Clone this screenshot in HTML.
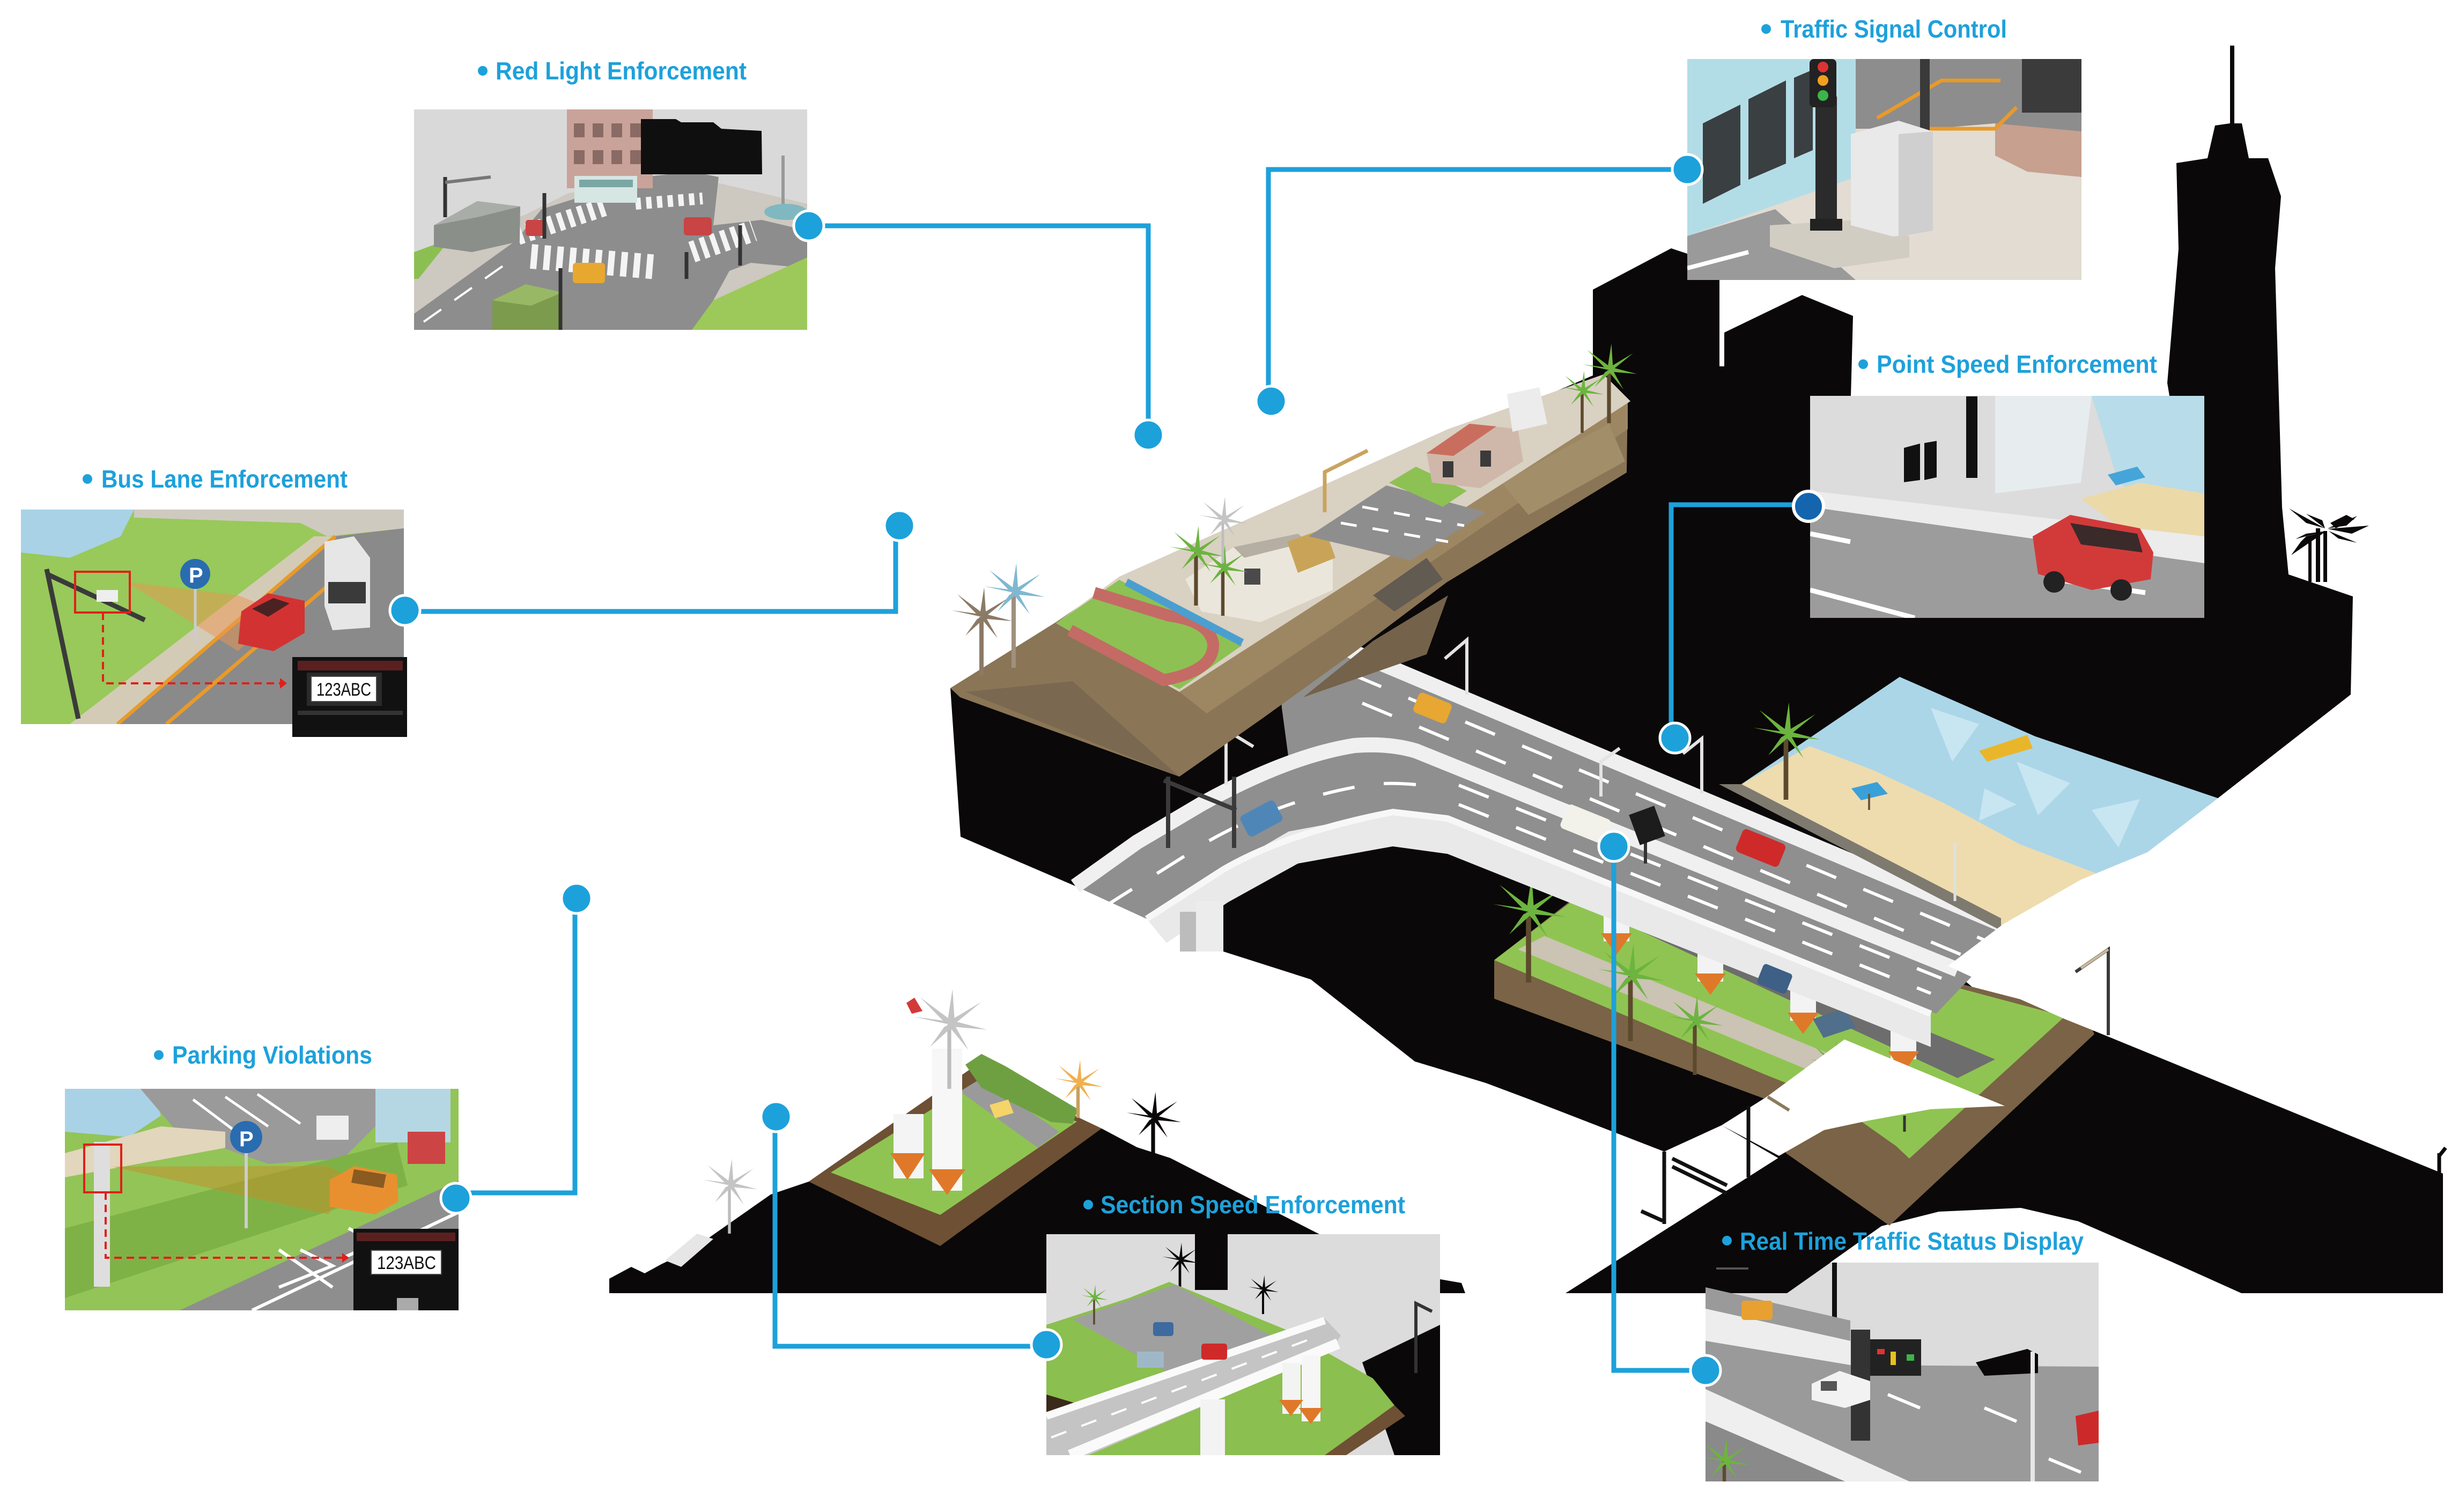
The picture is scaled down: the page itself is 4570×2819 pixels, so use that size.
<!DOCTYPE html>
<html><head><meta charset="utf-8"><title>ITS Solutions</title>
<style>
html,body{margin:0;padding:0;background:#fff;width:4570px;height:2819px;overflow:hidden}
svg{display:block}
.lb{font-family:"Liberation Sans",Arial,sans-serif;font-weight:bold;font-size:46px;fill:#1da1db}
.pl{font-family:"Liberation Sans",Arial,sans-serif;font-size:34px;fill:#111}
</style></head><body>
<svg width="4570" height="2819" viewBox="0 0 4570 2819" xmlns="http://www.w3.org/2000/svg">
<defs>
 <clipPath id="c1"><rect x="772" y="204" width="733" height="411"/></clipPath>
 <clipPath id="c2"><rect x="39" y="950" width="714" height="400"/></clipPath>
 <clipPath id="c3"><rect x="3146" y="110" width="735" height="412"/></clipPath>
 <clipPath id="c4"><rect x="3375" y="738" width="735" height="414"/></clipPath>
 <clipPath id="c5"><rect x="121" y="2030" width="734" height="413"/></clipPath>
 <clipPath id="c6"><rect x="1951" y="2301" width="734" height="412"/></clipPath>
 <clipPath id="c7"><rect x="3180" y="2354" width="733" height="408"/></clipPath>
 <g id="palmG"><rect x="-4" y="0" width="8" height="110" fill="#5d4a2e"/><path d="M0,0 L-55,-12 L-10,-6 L-45,-42 L-2,-10 L5,-55 L8,-10 L50,-35 L12,-4 L58,8 L10,4 L30,40 L2,6 L-30,35 L-8,4 Z" fill="#6cb43f"/></g>
 <g id="palmK"><rect x="-4" y="0" width="8" height="90" fill="#0a0808"/><path d="M0,0 L-55,-12 L-10,-6 L-45,-42 L-2,-10 L5,-55 L8,-10 L50,-35 L12,-4 L58,8 L10,4 L30,40 L2,6 L-30,35 L-8,4 Z" fill="#0a0808"/></g>
 <g id="palmY"><rect x="-3" y="0" width="6" height="100" fill="#bdbdbd"/><path d="M0,0 L-55,-12 L-10,-6 L-45,-42 L-2,-10 L5,-55 L8,-10 L50,-35 L12,-4 L58,8 L10,4 L30,40 L2,6 L-30,35 L-8,4 Z" fill="#c4c4c4"/></g>
</defs>

<!-- ===== BLACK MASSES ===== -->
<polygon fill="#0a0808" points="1772,1283 1969,1160 2087,1079 2970,700 2970,540 3116,463 3206,493 3206,683 3215,683 3215,620 3360,550 3455,589 3451,738 4045,738 4041,714 4062,464 4058,304 4116,295 4130,234 4158,230 4158,85 4166,85 4166,230 4180,230 4193,295 4229,295 4253,366 4242,500 4255,946 4267,1071 4387,1112 4383,1295 4128,1494 4004,1589 3880,1640 3735,1723 3632,1801 3700,1860 3891,1900 3900,1925 3523,2280 3317,2160 3210,2098 3103,2147 2850,2049 2770,2019 2638,1979 2444,1826 2281,1774 2281,1700 2138,1713 2005,1652 1791,1560"/>
<polygon fill="#0a0808" points="2919,2411 3317,2158 3523,2280 3900,1920 4555,2188 4555,2411 4179,2411 4050,2353 3875,2277 3768,2252 3615,2259 3508,2286 3332,2411"/>
<polygon fill="#0a0808" points="1136,2411 1136,2384 1177,2362 1202,2374 1233,2357 1290,2330 1437,2227 1508,2203 1814,1990 2054,2104 2120,2139 2182,2159 2460,2301 1951,2301 1951,2411"/>
<polygon fill="#0a0808" points="2685,2385 2725,2392 2732,2411 2685,2411"/>
<!-- palm silhouette near tower -->
<g fill="#0a0808">
 <path d="M4335,985 L4268,948 L4285,962 L4300,975 Z"/>
 <path d="M4335,985 L4300,958 L4330,970 Z"/>
 <path d="M4340,985 L4395,962 L4375,980 Z"/>
 <path d="M4340,986 L4417,980 L4385,995 Z"/>
 <path d="M4338,990 L4272,1035 L4290,1010 L4300,1000 Z"/>
 <path d="M4338,990 L4280,1005 L4300,995 Z"/>
 <path d="M4342,990 L4395,1012 L4360,1004 Z"/>
 <path d="M4345,975 L4375,960 L4390,968 L4355,985 Z"/>
 <rect x="4318" y="985" width="8" height="100"/>
 <rect x="4332" y="990" width="7" height="95"/>
 <rect x="4304" y="1000" width="6" height="85"/>
</g>
<use href="#palmK" transform="translate(2150,2085) scale(0.9)"/>

<!-- ===== BIG ISLAND ===== -->
<polygon fill="#7a6346" points="2786,1790 2786,1862 3294,2050 3330,2150 3523,2285 3905,1928 3891,1895 2960,1655"/>
<polygon fill="#8fc452" points="2786,1790 2960,1658 3850,1895 3560,2160 3470,2075 3290,2003"/>
<polygon fill="#cbc3b3" points="2830,1770 2880,1745 3520,2010 3480,2040"/>
<polygon fill="#6d6d6d" points="2960,1690 3010,1680 3720,1975 3650,2010"/>
<g fill="#f3f3f3">
 <rect x="2990" y="1670" width="48" height="85"/><rect x="3165" y="1745" width="48" height="85"/>
 <rect x="3338" y="1815" width="48" height="88"/><rect x="3525" y="1890" width="48" height="85"/>
</g>
<g fill="#e0782a">
 <polygon points="2985,1740 3043,1740 3014,1780"/><polygon points="3160,1815 3218,1815 3189,1855"/>
 <polygon points="3333,1888 3391,1888 3362,1928"/><polygon points="3520,1960 3578,1960 3549,2000"/>
</g>
<polygon fill="#4f6f8a" points="3380,1900 3440,1880 3460,1915 3400,1935"/>
<use href="#palmG" transform="translate(2850,1700) scale(1.2)"/>
<use href="#palmG" transform="translate(3040,1820) scale(1.1)"/>
<use href="#palmG" transform="translate(3160,1905) scale(0.9)"/>
<use href="#palmG" transform="translate(3420,1985) scale(0.8)"/>
<polygon fill="#8fc452" points="3462,2085 3540,2060 3610,2100 3540,2140"/>
<!-- white tear -->
<polygon fill="#ffffff" points="3210,2098 3294,2045 3439,1938 3738,2062 3600,2068 3485,2089 3401,2107 3317,2155"/>
<!-- lamps in white gap -->
<g stroke="#111" stroke-width="7" fill="none">
 <line x1="3103" y1="2147" x2="3103" y2="2282"/><line x1="3260" y1="2062" x2="3260" y2="2195"/>
 <line x1="3118" y1="2160" x2="3220" y2="2210"/><line x1="3118" y1="2175" x2="3220" y2="2225"/>
 <line x1="3060" y1="2258" x2="3100" y2="2276"/>
</g>
<line x1="3296" y1="2045" x2="3336" y2="2070" stroke="#8a7a5e" stroke-width="6"/>
<line x1="3551" y1="2080" x2="3551" y2="2110" stroke="#333" stroke-width="5"/>

<!-- ===== ROADS ===== -->
<polygon fill="#8f8f8f" points="2380,1150 3760,1733 3610,1890 2700,1525 2403,1417 2390,1320"/>
<polygon fill="#8f8f8f" points="2005,1652 2120,1570 2240,1499 2403,1417 2525,1390 2617,1395 2720,1425 2699,1524 2597,1514 2403,1550 2281,1621 2138,1713"/>
<polygon fill="#e9e9e9" points="2138,1713 2281,1621 2403,1550 2597,1514 2699,1526 3600,1890 3600,1952 2699,1592 2597,1578 2420,1610 2290,1682 2175,1758"/>
<rect x="2230" y="1680" width="51" height="94" fill="#ececec"/>
<rect x="2200" y="1700" width="30" height="74" fill="#bcbcbc"/>
<line x1="2380" y1="1155" x2="3760" y2="1735" stroke="#efefef" stroke-width="28"/>
<path d="M2005,1652 L2120,1570 L2240,1499 Q2400,1410 2525,1390 Q2590,1385 2640,1400 L3650,1808" stroke="#f0f0f0" stroke-width="28" fill="none"/>
<path d="M2138,1713 L2281,1621 Q2400,1552 2597,1514 L2699,1526 L3600,1890" stroke="#f7f7f7" stroke-width="12" fill="none"/>
<g stroke="#ffffff" stroke-width="6" stroke-dasharray="60 55" fill="none">
 <line x1="2520" y1="1257" x2="3720" y2="1761"/>
 <line x1="2540" y1="1311" x2="3700" y2="1798"/>
 <line x1="2720" y1="1464" x2="3620" y2="1824"/>
 <line x1="2720" y1="1500" x2="3600" y2="1852"/>
 <path d="M2060,1690 L2250,1570 Q2400,1485 2560,1462 Q2620,1457 2690,1470"/>
</g>
<g stroke="#3a3a3a" stroke-width="8" fill="none">
 <line x1="2178" y1="1448" x2="2178" y2="1581"/><line x1="2301" y1="1448" x2="2301" y2="1581"/>
 <line x1="2170" y1="1455" x2="2305" y2="1510"/>
</g>
<line x1="3068" y1="1560" x2="3068" y2="1610" stroke="#333" stroke-width="6"/>
<rect x="3046" y="1509" width="50" height="60" fill="#1c1c1c" transform="rotate(-20 3071 1539)"/>
<rect x="2638" y="1300" width="66" height="40" rx="8" fill="#e7a732" transform="rotate(22 2671 1320)"/>
<rect x="2316" y="1504" width="72" height="44" rx="8" fill="#4f86b8" transform="rotate(-28 2352 1526)"/>
<rect x="2913" y="1512" width="87" height="48" rx="8" fill="#f2f2ea" transform="rotate(22 2956 1536)"/>
<rect x="3240" y="1558" width="86" height="46" rx="8" fill="#cf2a2a" transform="rotate(22 3283 1581)"/>
<rect x="3280" y="1805" width="58" height="40" rx="6" fill="#3e5f86" transform="rotate(22 3309 1825)"/>
<g stroke="#e3e3e3" stroke-width="6" fill="none">
 <path d="M2735,1295 L2735,1193 L2694,1228"/>
 <path d="M2286,1463 L2286,1361 L2337,1392"/>
 <path d="M3173,1479 L3173,1377 L3138,1405"/>
 <path d="M3652,1682 L3652,1578 L3620,1605"/>
 <path d="M2985,1485 L2985,1420 L3020,1395"/>
</g>

<!-- ===== BEACH ===== -->
<polygon fill="#abd6e8" points="3542,1262 3795,1373 4138,1489 4012,1605 3872,1677 3731,1726 3247,1462"/>
<g fill="#c8e6f1">
 <polygon points="3600,1320 3690,1350 3640,1420"/><polygon points="3760,1420 3860,1460 3800,1520"/>
 <polygon points="3900,1510 3990,1490 3950,1580"/><polygon points="3700,1470 3760,1500 3690,1530"/>
</g>
<polygon fill="#eedcae" points="3247,1462 3374,1391 3493,1436 3626,1498 3766,1574 3942,1641 3872,1677 3731,1726"/>
<polygon fill="#7e7a70" points="3205,1462 3247,1462 3731,1712 3731,1735"/>
<polygon fill="#e9b62b" points="3690,1400 3780,1370 3790,1395 3705,1420"/>
<polygon fill="#3aa0d8" points="3452,1470 3500,1458 3520,1480 3470,1492"/>
<line x1="3485" y1="1480" x2="3485" y2="1510" stroke="#6a5a40" stroke-width="4"/>
<use href="#palmG" transform="translate(3330,1370) scale(1.1)"/>
<line x1="3645" y1="1570" x2="3645" y2="1680" stroke="#e0e0e0" stroke-width="5"/>
<polygon fill="#ffffff" points="4128,1494 4383,1295 4570,1295 4570,2195 4555,2188 3900,1920 3850,1900 3760,1860 3632,1801 3735,1723 3880,1640 4004,1589"/>
<path d="M3931,1930 L3931,1770 L3870,1812" stroke="#3a3a3a" stroke-width="6" fill="none"/>
<path d="M3931,1770 L3880,1805" stroke="#c9b89a" stroke-width="5"/>
<path d="M4548,2150 L4548,2250 M4548,2155 L4560,2140" stroke="#0a0808" stroke-width="7" fill="none"/>

<!-- ===== CLIFF ===== -->
<polygon fill="#8a7556" points="1772,1283 1969,1160 2087,1079 2990,700 3035,748 3033,881 2697,1086 2525,1216 2353,1340 2199,1448 1790,1300"/>
<polygon fill="#9d8763" points="2199,1290 3035,750 3035,800 2250,1330"/>
<polygon fill="#74624a" points="2430,1300 2560,1195 2700,1110 2660,1220"/>
<polygon fill="#625b52" points="2560,1110 2660,1040 2690,1080 2600,1140"/>
<polygon fill="#7b6850" points="1800,1290 2000,1270 2199,1448"/>
<polygon fill="#a38e6a" points="2800,900 3000,790 3030,860 2850,960"/>
<polygon fill="#d9d1c2" points="1969,1162 2087,1075 2400,935 2700,800 2990,698 3040,748 2199,1290"/>
<polygon fill="#8dc153" points="1969,1162 2087,1081 2316,1203 2199,1285"/>
<path d="M1995,1175 L2170,1268 Q2265,1250 2262,1200 Q2255,1158 2180,1148 L2040,1105" stroke="#c46b66" stroke-width="22" fill="none"/>
<line x1="2100" y1="1085" x2="2316" y2="1198" stroke="#4a9fd0" stroke-width="14"/>
<polygon fill="#ebe6dc" points="2210,1080 2300,1020 2420,995 2485,1035 2485,1100 2350,1160 2240,1140"/>
<polygon fill="#b5aea3" points="2300,1020 2420,995 2440,1010 2320,1040"/>
<rect x="2320" y="1060" width="30" height="30" fill="#4a4a4a"/>
<polygon fill="#c9a458" points="2400,1010 2470,985 2490,1040 2420,1068"/>
<polygon fill="#8e8e8e" points="2440,1000 2585,905 2770,955 2630,1045"/>
<g stroke="#fff" stroke-width="5" stroke-dasharray="30 30"><line x1="2500" y1="975" x2="2700" y2="1010"/><line x1="2540" y1="945" x2="2730" y2="980"/></g>
<polygon fill="#8dc153" points="2590,900 2640,870 2735,915 2690,945"/>
<polygon fill="#cfb8aa" points="2660,845 2740,790 2830,800 2840,860 2760,910 2670,900"/>
<polygon fill="#c96e5e" points="2660,845 2740,790 2790,795 2710,850"/>
<rect x="2690" y="860" width="20" height="30" fill="#3a3a3a"/><rect x="2760" y="840" width="20" height="30" fill="#3a3a3a"/>
<polygon fill="#ececec" points="2810,735 2870,722 2885,790 2820,805"/>
<path d="M2470,955 L2470,880 L2550,840" stroke="#c9a460" stroke-width="7" fill="none"/>
<use href="#palmG" transform="translate(3000,690) scale(0.9)"/>
<use href="#palmG" transform="translate(2950,730) scale(0.7)"/>
<use href="#palmG" transform="translate(2230,1030) scale(0.9)"/>
<use href="#palmG" transform="translate(2280,1060) scale(0.8)"/>
<use href="#palmY" transform="translate(2280,970) scale(0.8)"/>
<g transform="translate(1830,1150) scale(1.0)"><rect x="-4" y="0" width="8" height="110" fill="#8b7a66"/><path d="M0,0 L-55,-12 L-10,-6 L-45,-42 L-2,-10 L5,-55 L8,-10 L50,-35 L12,-4 L58,8 L10,4 L30,40 L2,6 L-30,35 L-8,4 Z" fill="#8b7a66"/></g>
<g transform="translate(1890,1105) scale(1.0)"><rect x="-4" y="0" width="8" height="140" fill="#a09080"/><path d="M0,0 L-55,-12 L-10,-6 L-45,-42 L-2,-10 L5,-55 L8,-10 L50,-35 L12,-4 L58,8 L10,4 L30,40 L2,6 L-30,35 L-8,4 Z" fill="#7fb8d0"/></g>

<!-- ===== MOUNTAIN ISLAND ===== -->
<polygon fill="#6e5034" points="1508,2203 1814,1990 2054,2104 1753,2323"/>
<polygon fill="#8fc452" points="1549,2186 1814,2020 2008,2091 1753,2265"/>
<polygon fill="#9a9a9a" points="1790,2035 1830,2010 1975,2110 1935,2140"/>
<polygon fill="#6ea042" points="1800,1985 1830,1965 1875,1988 2010,2068 2000,2095 1960,2092 1830,2028"/>
<rect x="1666" y="2077" width="56" height="120" fill="#f4f4f4"/>
<rect x="1738" y="1955" width="56" height="265" fill="#f7f7f7"/>
<polygon fill="#e0782a" points="1660,2150 1725,2150 1692,2200"/><polygon fill="#e0782a" points="1732,2180 1800,2180 1766,2228"/>
<polygon fill="#f5d46a" points="1845,2060 1880,2050 1890,2075 1855,2085"/>
<use href="#palmY" transform="translate(1770,1910) scale(1.2)"/>
<polygon fill="#d23a3a" points="1690,1870 1705,1860 1720,1885 1700,1890"/>
<g transform="translate(2010,2020) scale(0.8)"><rect x="-4" y="0" width="8" height="80" fill="#c8a060"/><path d="M0,0 L-55,-12 L-10,-6 L-45,-42 L-2,-10 L5,-55 L8,-10 L50,-35 L12,-4 L58,8 L10,4 L30,40 L2,6 L-30,35 L-8,4 Z" fill="#f0b050"/></g>
<use href="#palmY" transform="translate(1360,2210) scale(0.9)"/>
<polygon fill="#e6e6e6" points="1240,2350 1300,2300 1330,2310 1270,2362"/>

<!-- ===== PHOTO 1 : RED LIGHT ===== -->
<g clip-path="url(#c1)">
 <rect x="772" y="204" width="733" height="411" fill="#d9d9d9"/>
 <polygon fill="#cdc8c0" points="772,470 980,400 1060,360 1290,330 1420,360 1505,380 1505,615 772,615"/>
 <polygon fill="#8d8d8d" points="772,585 960,450 1010,390 1200,330 1290,320 1340,330 1330,420 1420,410 1505,430 1505,500 1400,490 1360,505 1300,615 772,615"/>
 <polygon fill="#9dc95a" points="1330,560 1505,480 1505,615 1290,615"/>
 <polygon fill="#8cbf52" points="772,470 840,445 780,520 772,520"/>
 <g stroke="#fff" stroke-width="4" stroke-dasharray="40 30"><line x1="790" y1="600" x2="960" y2="480"/></g>
 <line x1="965" y1="440" x2="1130" y2="385" stroke="#f4f4f4" stroke-width="34" stroke-dasharray="10 10"/>
 <line x1="990" y1="478" x2="1225" y2="498" stroke="#f4f4f4" stroke-width="46" stroke-dasharray="12 12"/>
 <line x1="1290" y1="470" x2="1405" y2="430" stroke="#f4f4f4" stroke-width="40" stroke-dasharray="10 10"/>
 <line x1="1185" y1="380" x2="1310" y2="370" stroke="#f4f4f4" stroke-width="22" stroke-dasharray="10 10"/>
 <polygon fill="#8a8f8a" points="809,420 890,375 970,385 969,450 880,470 809,460"/>
 <polygon fill="#a8ada8" points="809,420 890,375 970,385 890,405"/>
 <rect x="1057" y="203" width="160" height="148" fill="#c9a39a"/>
 <g fill="#8a6a64"><rect x="1070" y="230" width="20" height="26"/><rect x="1105" y="230" width="20" height="26"/><rect x="1140" y="230" width="20" height="26"/><rect x="1175" y="230" width="20" height="26"/><rect x="1070" y="280" width="20" height="26"/><rect x="1105" y="280" width="20" height="26"/><rect x="1140" y="280" width="20" height="26"/><rect x="1175" y="280" width="20" height="26"/></g>
 <polygon fill="#0f0f0f" points="1195,222 1260,222 1270,228 1330,228 1345,240 1420,244 1421,325 1195,325"/>
 <rect x="1071" y="328" width="117" height="50" fill="#d5e6e3"/>
 <rect x="1080" y="335" width="100" height="14" fill="#7aa6a4"/>
 <polygon fill="#7d9b4d" points="918,560 980,530 1049,545 1049,615 918,615"/>
 <polygon fill="#99b866" points="918,560 980,530 1049,545 990,570"/>
 <rect x="1068" y="490" width="60" height="38" rx="6" fill="#e8a830"/>
 <rect x="1275" y="405" width="52" height="34" rx="6" fill="#c94444"/>
 <rect x="980" y="410" width="35" height="30" rx="5" fill="#c94444"/>
 <g stroke="#333" stroke-width="7"><line x1="1045" y1="500" x2="1045" y2="615"/><line x1="1280" y1="470" x2="1280" y2="520"/><line x1="1380" y1="420" x2="1380" y2="495"/><line x1="830" y1="330" x2="830" y2="405"/><line x1="1015" y1="360" x2="1015" y2="445"/></g>
 <line x1="830" y1="340" x2="915" y2="330" stroke="#777" stroke-width="6"/>
 <line x1="1460" y1="290" x2="1460" y2="390" stroke="#999" stroke-width="6"/>
 <ellipse cx="1465" cy="395" rx="40" ry="15" fill="#7fb8c0"/>
</g>

<!-- ===== PHOTO 2 : BUS LANE ===== -->
<g clip-path="url(#c2)">
 <rect x="39" y="950" width="714" height="400" fill="#98c95a"/>
 <polygon fill="#a9d2e6" points="39,950 250,950 225,1000 130,1040 39,1030"/>
 <polygon fill="#cfcac0" points="250,950 753,950 753,985 610,1000 560,975 250,965"/>
 <polygon fill="#d4cbb6" points="130,1350 585,1000 625,1000 219,1350"/>
 <polygon fill="#8a8a8a" points="219,1350 625,1000 753,985 753,1350"/>
 <line x1="219" y1="1350" x2="625" y2="1000" stroke="#e89a2a" stroke-width="7"/>
 <line x1="310" y1="1350" x2="660" y2="1050" stroke="#e89a2a" stroke-width="7"/>
 <line x1="650" y1="1350" x2="753" y2="1260" stroke="#fff" stroke-width="6"/>
 <polygon fill="rgba(235,150,80,0.5)" points="235,1085 444,1110 520,1140 444,1214"/>
 <polygon fill="#e6e6e6" points="605,1010 660,1000 690,1040 690,1170 620,1175 605,1130"/>
 <rect x="612" y="1085" width="70" height="40" fill="#3a3a3a"/>
 <polygon fill="#d33232" points="450,1140 500,1106 568,1120 568,1180 510,1214 444,1200"/>
 <polygon fill="#4a2222" points="470,1135 510,1115 540,1125 500,1150"/>
 <g stroke="#3a3a3a" stroke-width="9"><line x1="87" y1="1061" x2="146" y2="1340"/><line x1="87" y1="1070" x2="270" y2="1156"/></g>
 <rect x="180" y="1100" width="40" height="22" fill="#eee"/>
 <line x1="364" y1="1095" x2="364" y2="1200" stroke="#ccc" stroke-width="5"/>
 <circle cx="364" cy="1070" r="28" fill="#2a6cb0"/>
 <text x="352" y="1086" font-family="Liberation Sans, sans-serif" font-weight="bold" font-size="40" fill="#fff">P</text>
 <rect x="140" y="1066" width="102" height="76" fill="none" stroke="#e0201a" stroke-width="4"/>
 <path d="M192,1142 L192,1274 L525,1274" fill="none" stroke="#e0201a" stroke-width="4" stroke-dasharray="14 9"/>
</g>
<polygon points="522,1264 535,1274 522,1284" fill="#e0201a"/>
<rect x="545" y="1225" width="214" height="149" fill="#111"/>
<rect x="555" y="1232" width="196" height="18" fill="#5a2020"/>
<rect x="572" y="1254" width="140" height="62" fill="#2a2a2a"/>
<rect x="580" y="1261" width="122" height="47" fill="#fff" stroke="#444" stroke-width="2"/>
<text class="pl" x="590" y="1297" textLength="102" lengthAdjust="spacingAndGlyphs">123ABC</text>
<rect x="555" y="1325" width="196" height="8" fill="#333"/>

<!-- ===== PHOTO 3 : TRAFFIC SIGNAL ===== -->
<g clip-path="url(#c3)">
 <rect x="3146" y="110" width="735" height="412" fill="#e2dcd2"/>
 <polygon fill="#8d8d8d" points="3460,110 3881,110 3881,250 3720,230 3600,240 3460,240"/>
 <rect x="3770" y="110" width="111" height="100" fill="#3b3b3b"/>
 <polygon fill="#c7a08f" points="3720,230 3881,245 3881,330 3780,320 3720,290"/>
 <g stroke="#e89a2a" stroke-width="7" fill="none"><path d="M3500,220 L3620,150 L3730,150"/><path d="M3520,240 L3720,240 L3760,200"/></g>
 <rect x="3580" y="110" width="18" height="170" fill="#3a3a3a"/>
 <polygon fill="#b3dde6" points="3146,110 3460,110 3460,330 3146,440"/>
 <polygon fill="#3a3f42" points="3175,230 3245,195 3245,345 3175,380"/>
 <polygon fill="#3a3f42" points="3260,185 3330,150 3330,305 3260,335"/>
 <polygon fill="#3a3f42" points="3345,145 3380,130 3380,280 3345,295"/>
 <polygon fill="#9a9a9a" points="3146,440 3310,390 3400,470 3460,522 3146,522"/>
 <line x1="3146" y1="500" x2="3260" y2="470" stroke="#fff" stroke-width="8"/>
 <polygon fill="#d2cdc3" points="3300,420 3460,410 3560,440 3560,480 3420,500 3300,460"/>
 <rect x="3385" y="180" width="40" height="240" fill="#2b2b2b"/>
 <rect x="3375" y="408" width="60" height="22" fill="#222"/>
 <rect x="3374" y="110" width="50" height="90" rx="8" fill="#222"/>
 <circle cx="3399" cy="125" r="10" fill="#d33"/><circle cx="3399" cy="150" r="10" fill="#f0a020"/><circle cx="3399" cy="178" r="10" fill="#3cb44a"/>
 <polygon fill="#e9e9e9" points="3451,250 3540,225 3604,245 3604,430 3530,441 3451,420"/>
 <polygon fill="#cfcfcf" points="3540,250 3604,245 3604,430 3540,441"/>
</g>

<!-- ===== PHOTO 4 : POINT SPEED ===== -->
<g clip-path="url(#c4)">
 <rect x="3375" y="738" width="735" height="414" fill="#dcdcdc"/>
 <polygon fill="#b8dcea" points="3900,738 4110,738 4110,990 3950,900"/>
 <polygon fill="#e7ecee" points="3720,738 3900,738 3880,900 3720,920"/>
 <polygon fill="#ecd9a8" points="3880,930 3990,900 4110,920 4110,1020 3990,1010"/>
 <polygon fill="#45a5d8" points="3930,885 3985,870 4000,890 3945,905"/>
 <polygon fill="#ececec" points="3375,915 4110,1000 4110,1050 3375,945"/>
 <polygon fill="#9c9c9c" points="3375,945 4110,1050 4110,1152 3375,1152"/>
 <g stroke="#fff" stroke-width="9"><line x1="3375" y1="995" x2="3450" y2="1010"/><line x1="3375" y1="1100" x2="3570" y2="1152"/><line x1="3830" y1="1080" x2="4000" y2="1105"/></g>
 <rect x="3666" y="739" width="21" height="152" fill="#111"/>
 <polygon fill="#111" points="3550,835 3580,827 3580,895 3550,899"/><polygon fill="#111" points="3588,826 3611,822 3611,890 3588,895"/>
 <polygon fill="#d23a3a" points="3790,1000 3860,960 3990,985 4015,1030 4010,1080 3900,1100 3800,1070"/>
 <polygon fill="#3a2a2a" points="3860,975 3985,995 3995,1030 3880,1015"/>
 <circle cx="3830" cy="1085" r="20" fill="#222"/><circle cx="3955" cy="1100" r="20" fill="#222"/>
</g>

<!-- ===== PHOTO 5 : PARKING ===== -->
<g clip-path="url(#c5)">
 <rect x="121" y="2030" width="734" height="413" fill="#93c457"/>
 <polygon fill="#a9d2e6" points="121,2030 284,2030 300,2080 240,2120 121,2110"/>
 <polygon fill="#9a9a9a" points="262,2030 700,2030 740,2060 640,2160 500,2170 330,2110"/>
 <g stroke="#fff" stroke-width="5"><line x1="360" y1="2050" x2="440" y2="2110"/><line x1="420" y1="2045" x2="500" y2="2100"/><line x1="480" y1="2040" x2="560" y2="2095"/></g>
 <polygon fill="#e2d6bc" points="121,2150 300,2100 420,2110 420,2140 121,2195"/>
 <polygon fill="#7fb246" points="121,2290 460,2200 740,2130 760,2210 121,2420"/>
 <rect x="700" y="2030" width="140" height="100" fill="#b5d7e4"/>
 <rect x="760" y="2110" width="70" height="60" fill="#c44"/>
 <rect x="590" y="2080" width="60" height="45" fill="#eee"/>
 <polygon fill="#8e8e8e" points="335,2443 855,2201 855,2443"/>
 <g stroke="#fff" stroke-width="6" fill="none"><path d="M470,2443 L855,2260"/><path d="M520,2400 L620,2360 L560,2330 M520,2330 L620,2400"/><path d="M640,2345 L740,2300 M650,2290 L740,2340"/></g>
 <polygon fill="rgba(200,140,40,0.5)" points="210,2175 612,2174 660,2200 612,2264"/>
 <polygon fill="#e89030" points="615,2200 660,2174 740,2190 743,2240 700,2264 615,2250"/>
 <polygon fill="#8a5a20" points="660,2180 720,2190 715,2215 655,2205"/>
 <line x1="459" y1="2150" x2="459" y2="2290" stroke="#ccc" stroke-width="6"/>
 <circle cx="459" cy="2120" r="30" fill="#2a6cb0"/>
 <text x="446" y="2137" font-family="Liberation Sans, sans-serif" font-weight="bold" font-size="40" fill="#fff">P</text>
 <rect x="175" y="2129" width="30" height="270" fill="#dedede"/>
 <rect x="157" y="2134" width="69" height="89" fill="none" stroke="#e0201a" stroke-width="4"/>
 <path d="M197,2223 L197,2345 L640,2345" fill="none" stroke="#e0201a" stroke-width="4" stroke-dasharray="14 9"/>
 <polygon points="638,2336 651,2345 638,2354" fill="#e0201a"/>
</g>
<rect x="659" y="2291" width="196" height="152" fill="#111"/>
<rect x="665" y="2298" width="184" height="16" fill="#5a2020"/>
<rect x="692" y="2331" width="131" height="45" fill="#fff" stroke="#444" stroke-width="2"/>
<text class="pl" x="703" y="2366" textLength="110" lengthAdjust="spacingAndGlyphs">123ABC</text>
<rect x="740" y="2420" width="40" height="23" fill="#aaa"/>

<!-- ===== PHOTO 6 : SECTION SPEED ===== -->
<g clip-path="url(#c6)">
 <rect x="1951" y="2301" width="734" height="412" fill="#dcdcdc"/>
 <rect x="2228" y="2301" width="61" height="104" fill="#0a0808"/>
 <use href="#palmK" transform="translate(2200,2350) scale(0.6)"/>
 <use href="#palmK" transform="translate(2355,2405) scale(0.5)"/>
 <polygon fill="#0a0808" points="2540,2540 2685,2470 2685,2713 2600,2713"/>
 <polygon fill="#8bbf4f" points="1951,2470 2105,2420 2180,2390 2400,2480 2560,2570 2600,2620 2470,2713 1951,2713"/>
 <polygon fill="#a0a0a0" points="2000,2460 2190,2395 2370,2490 2180,2560"/>
 <polygon fill="#6e5034" points="2470,2713 2600,2620 2620,2640 2510,2713"/>
 <polygon fill="#3a2a1a" points="1951,2600 2018,2620 2018,2713 1951,2713"/>
 <polygon fill="#c4c4c4" points="1951,2635 2470,2458 2500,2490 2480,2520 2030,2713 1951,2713"/>
 <line x1="1951" y1="2640" x2="2470" y2="2462" stroke="#fafafa" stroke-width="14"/>
 <line x1="1995" y1="2713" x2="2495" y2="2505" stroke="#fafafa" stroke-width="20"/>
 <line x1="1960" y1="2680" x2="2460" y2="2490" stroke="#fff" stroke-width="4" stroke-dasharray="30 30"/>
 <rect x="2238" y="2609" width="46" height="104" fill="#f3f3f3"/>
 <rect x="2391" y="2541" width="34" height="95" fill="#f3f3f3"/>
 <rect x="2427" y="2527" width="35" height="123" fill="#f6f6f6"/>
 <g fill="#e0782a"><polygon points="2385,2610 2430,2610 2407,2640"/><polygon points="2422,2625 2467,2625 2444,2655"/></g>
 <rect x="2240" y="2505" width="48" height="30" rx="5" fill="#cf2a2a"/>
 <rect x="2150" y="2465" width="38" height="26" rx="5" fill="#3e6aa0"/>
 <rect x="2120" y="2520" width="50" height="30" fill="#9fb8c8"/>
 <path d="M2640,2560 L2640,2430 L2670,2445" stroke="#333" stroke-width="6" fill="none"/>
 <use href="#palmG" transform="translate(2040,2420) scale(0.45)"/>
</g>

<!-- ===== PHOTO 7 : REAL TIME ===== -->
<g clip-path="url(#c7)">
 <rect x="3180" y="2354" width="733" height="408" fill="#dcdcdc"/>
 <polygon fill="#0a0808" points="3180,2354 3413,2354 3332,2411 3180,2411"/>
 <line x1="3200" y1="2365" x2="3260" y2="2365" stroke="#555" stroke-width="4"/>
 <rect x="3416" y="2354" width="9" height="110" fill="#111"/>
 <polygon fill="#9a9a9a" points="3180,2400 3450,2462 3450,2500 3180,2440"/>
 <polygon fill="#ededed" points="3180,2440 3450,2500 3450,2545 3180,2500"/>
 <polygon fill="#9a9a9a" points="3180,2500 3450,2545 3913,2548 3913,2762 3560,2762 3180,2590"/>
 <polygon fill="#efefef" points="3180,2590 3560,2762 3440,2762 3180,2650"/>
 <polygon fill="#8a8a8a" points="3180,2650 3440,2762 3180,2762"/>
 <g stroke="#fff" stroke-width="6"><line x1="3520" y1="2600" x2="3580" y2="2625"/><line x1="3700" y1="2625" x2="3760" y2="2650"/><line x1="3820" y1="2720" x2="3880" y2="2745"/></g>
 <rect x="3247" y="2425" width="58" height="36" rx="6" fill="#e8a030"/>
 <rect x="3451" y="2479" width="36" height="207" fill="#333"/>
 <rect x="3487" y="2497" width="95" height="68" fill="#222"/>
 <rect x="3500" y="2515" width="14" height="10" fill="#d33"/><rect x="3525" y="2520" width="10" height="25" fill="#e8c020"/><rect x="3555" y="2525" width="14" height="12" fill="#3cb44a"/>
 <polygon fill="#0a0808" points="3684,2540 3780,2515 3800,2525 3800,2560 3700,2565"/>
 <rect x="3786" y="2520" width="8" height="242" fill="#e6e6e6"/>
 <polygon fill="#f2f2f2" points="3378,2580 3430,2556 3487,2575 3487,2610 3440,2625 3378,2610"/>
 <rect x="3395" y="2575" width="30" height="18" fill="#555"/>
 <polygon fill="#cc2a2a" points="3870,2640 3913,2630 3913,2690 3875,2695"/>
 <use href="#palmG" transform="translate(3215,2725) scale(0.8)"/>
</g>

<!-- ===== CONNECTORS ===== -->
<g stroke="#1da1db" stroke-width="9" fill="none" stroke-linejoin="miter">
 <polyline points="1508,421 2141,421 2141,811"/>
 <polyline points="3146,316 2365,316 2365,748"/>
 <polyline points="755,1140 1670,1140 1670,980"/>
 <polyline points="3372,941 3116,941 3116,1376"/>
 <polyline points="850,2224 1072,2224 1072,1675"/>
 <polyline points="1445,2082 1445,2510 1951,2510"/>
 <polyline points="3009,1578 3009,2555 3180,2555"/>
</g>
<g fill="#1da1db" stroke="#ffffff" stroke-width="5">
 <circle cx="1508" cy="421" r="28"/>
 <circle cx="2141" cy="811" r="28"/>
 <circle cx="3146" cy="316" r="28"/>
 <circle cx="2370" cy="748" r="28"/>
 <circle cx="755" cy="1138" r="28"/>
 <circle cx="1677" cy="980" r="28"/>
 <circle cx="3123" cy="1376" r="28"/>
 <circle cx="850" cy="2234" r="28"/>
 <circle cx="1075" cy="1675" r="28"/>
 <circle cx="1447" cy="2082" r="28"/>
 <circle cx="1951" cy="2507" r="28"/>
 <circle cx="3009" cy="1578" r="28"/>
 <circle cx="3180" cy="2555" r="28"/>
</g>
<circle cx="3372" cy="944" r="28" fill="#1465ae" stroke="#ffffff" stroke-width="6"/>

<!-- ===== LABELS ===== -->
<g fill="#1da1db">
 <circle cx="900" cy="132" r="9"/><circle cx="163" cy="893" r="9"/><circle cx="3293" cy="54" r="9"/>
 <circle cx="3474" cy="679" r="9"/><circle cx="296" cy="1967" r="9"/><circle cx="2029" cy="2246" r="9"/>
 <circle cx="3220" cy="2313" r="9"/>
</g>
<text class="lb" x="924" y="148" textLength="468" lengthAdjust="spacingAndGlyphs">Red Light Enforcement</text>
<text class="lb" x="189" y="909" textLength="459" lengthAdjust="spacingAndGlyphs">Bus Lane Enforcement</text>
<text class="lb" x="3320" y="70" textLength="422" lengthAdjust="spacingAndGlyphs">Traffic Signal Control</text>
<text class="lb" x="3499" y="695" textLength="523" lengthAdjust="spacingAndGlyphs">Point Speed Enforcement</text>
<text class="lb" x="321" y="1983" textLength="373" lengthAdjust="spacingAndGlyphs">Parking Violations</text>
<text class="lb" x="2052" y="2262" textLength="568" lengthAdjust="spacingAndGlyphs">Section Speed Enforcement</text>
<text class="lb" x="3244" y="2330" textLength="641" lengthAdjust="spacingAndGlyphs">Real Time Traffic Status Display</text>
</svg>
</body></html>
